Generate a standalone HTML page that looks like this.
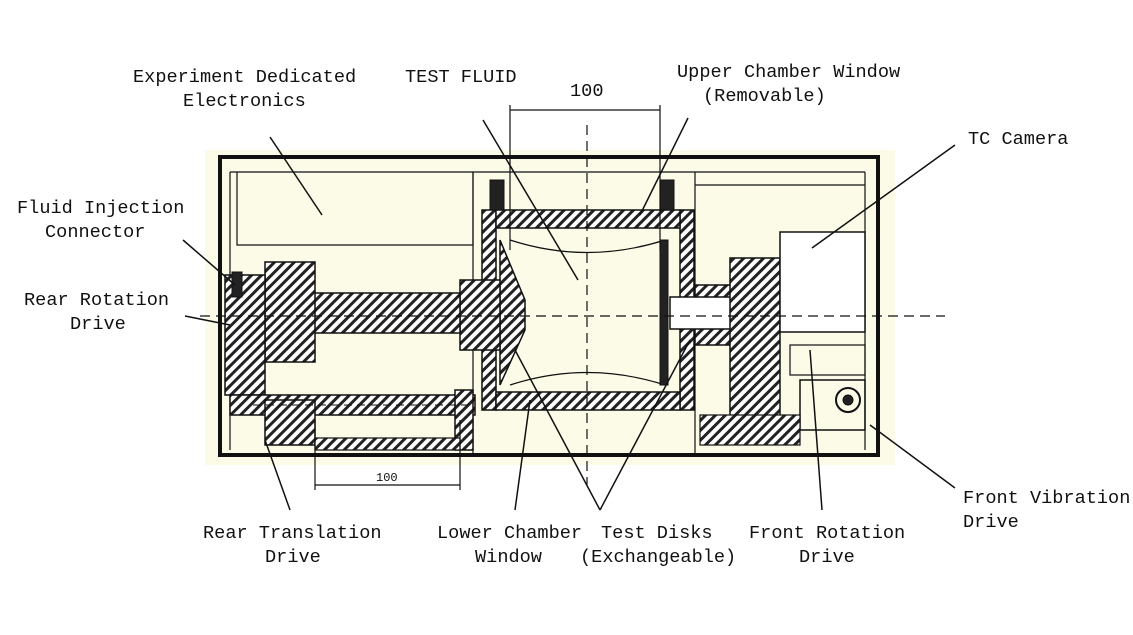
<!DOCTYPE html>
<html><head><meta charset="utf-8"><style>
html,body{margin:0;padding:0;background:#fff;}
svg{display:block}
text{font-family:"Liberation Mono",monospace;font-size:18.6px;fill:#111}
</style></head><body>
<svg width="1133" height="635" viewBox="0 0 1133 635" xmlns="http://www.w3.org/2000/svg">
<defs>
<pattern id="h" width="7" height="7" patternUnits="userSpaceOnUse" patternTransform="rotate(45)">
<rect width="7" height="7" fill="#fff"/><rect width="3" height="7" fill="#222"/></pattern>
</defs>
<rect width="1133" height="635" fill="#fff"/>
<rect x="205" y="150" width="690" height="315" fill="#fbfbe8"/>
<g stroke="#111" fill="none">
<!-- outer frame -->
<path d="M220 157 H878 V455 H220 Z" stroke-width="4"/>
<path d="M230 172 H865 M230 172 V450 M865 172 V450" stroke-width="1.2"/>
<!-- electronics box -->
<path d="M237 172 V245 H473 V172" stroke-width="1.2"/>
<path d="M473 172 V455" stroke-width="1.2"/>
<path d="M695 172 V455 M695 185 H865" stroke-width="1.2"/>
<!-- chamber -->
<rect x="482" y="210" width="14" height="200" fill="url(#h)" stroke-width="1.5"/>
<rect x="680" y="210" width="14" height="200" fill="url(#h)" stroke-width="1.5"/>
<rect x="496" y="210" width="184" height="18" fill="url(#h)" stroke-width="1.5"/>
<rect x="496" y="392" width="184" height="18" fill="url(#h)" stroke-width="1.5"/>
<path d="M510 240 Q587 265 665 240 M510 385 Q587 360 665 385" stroke-width="1.2"/>
<rect x="490" y="180" width="14" height="30" fill="#222"/>
<rect x="660" y="180" width="14" height="30" fill="#222"/>
<!-- left disk -->
<path d="M500 240 L525 300 V330 L500 385 Z" fill="url(#h)" stroke-width="1.5"/>
<rect x="660" y="240" width="8" height="145" fill="#222"/>
<rect x="460" y="280" width="40" height="70" fill="url(#h)" stroke-width="1.5"/>
<!-- rear shaft -->
<rect x="240" y="293" width="220" height="40" fill="url(#h)" stroke-width="1.5"/>
<rect x="265" y="262" width="50" height="100" fill="url(#h)" stroke-width="1.5"/>
<rect x="225" y="275" width="40" height="120" fill="url(#h)" stroke-width="1.5"/>
<rect x="232" y="272" width="10" height="25" fill="#222"/>
<!-- translation rod -->
<rect x="230" y="395" width="245" height="20" fill="url(#h)" stroke-width="1.5"/>
<rect x="265" y="400" width="50" height="45" fill="url(#h)" stroke-width="1.5"/>
<rect x="455" y="390" width="18" height="60" fill="url(#h)" stroke-width="1.5"/>
<rect x="315" y="438" width="145" height="12" fill="url(#h)" stroke-width="1.2"/>
<!-- front shaft -->
<rect x="695" y="285" width="40" height="60" fill="url(#h)" stroke-width="1.5"/>
<rect x="670" y="297" width="115" height="32" fill="#fff" stroke-width="1.5"/>
<rect x="730" y="258" width="50" height="160" fill="url(#h)" stroke-width="1.5"/>
<rect x="780" y="232" width="85" height="100" fill="#fff" stroke-width="1.5"/>
<rect x="790" y="345" width="75" height="30" stroke-width="1.2"/>
<rect x="800" y="380" width="65" height="50" stroke-width="1.5"/>
<circle cx="848" cy="400" r="12" stroke-width="2"/>
<circle cx="848" cy="400" r="5" fill="#222"/>
<rect x="700" y="415" width="100" height="30" fill="url(#h)" stroke-width="1.2"/>
<!-- centerlines -->
<path d="M200 316 H945" stroke-width="1.2" stroke-dasharray="10 6"/>
<path d="M587 125 V485" stroke-width="1.2" stroke-dasharray="10 6"/>
<path d="M253 405 H470" stroke-width="1" stroke-dasharray="8 5"/>
<!-- dimensions -->
<path d="M510 110 H660 M510 105 V250 M660 105 V250" stroke-width="1.2"/>
<path d="M315 485 H460 M315 420 V490 M460 420 V490" stroke-width="1.2"/>
<!-- leader lines -->
<g stroke-width="1.5">
<path d="M270 137 L322 215"/>
<path d="M483 120 L578 280"/>
<path d="M688 118 L640 215"/>
<path d="M955 145 L812 248"/>
<path d="M183 240 L235 285"/>
<path d="M185 316 L230 325"/>
<path d="M290 510 L265 440"/>
<path d="M515 510 L530 400"/>
<path d="M600 510 L515 350"/>
<path d="M600 510 L690 340"/>
<path d="M822 510 L810 350"/>
<path d="M955 488 L870 425"/>
</g>
</g>
<text x="133" y="82">Experiment Dedicated</text>
<text x="183" y="106">Electronics</text>
<text x="405" y="82">TEST FLUID</text>
<text x="570" y="96">100</text>
<text x="677" y="77">Upper Chamber Window</text>
<text x="703" y="101">(Removable)</text>
<text x="968" y="144">TC Camera</text>
<text x="17" y="213">Fluid Injection</text>
<text x="45" y="237">Connector</text>
<text x="24" y="305">Rear Rotation</text>
<text x="70" y="329">Drive</text>
<text x="376" y="481" style="font-size:12px">100</text>
<text x="203" y="538">Rear Translation</text>
<text x="265" y="562">Drive</text>
<text x="437" y="538">Lower Chamber</text>
<text x="475" y="562">Window</text>
<text x="601" y="538">Test Disks</text>
<text x="580" y="562">(Exchangeable)</text>
<text x="749" y="538">Front Rotation</text>
<text x="799" y="562">Drive</text>
<text x="963" y="503">Front Vibration</text>
<text x="963" y="527">Drive</text>
</svg>
</body></html>
